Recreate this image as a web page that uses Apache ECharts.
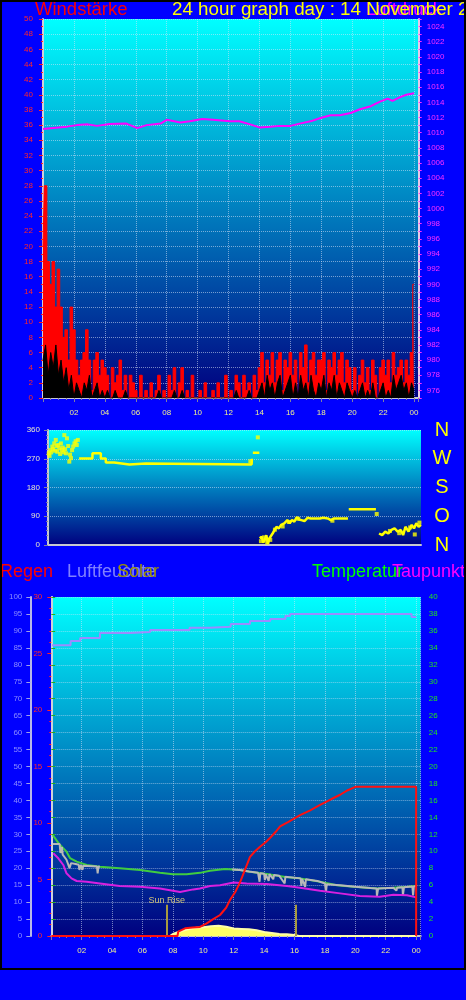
<!DOCTYPE html>
<html><head><meta charset="utf-8">
<style>html,body{margin:0;padding:0;background:#0000ff;}#c{width:466px;height:1000px;}</style>
<script src="https://cdn.jsdelivr.net/npm/echarts@6/dist/echarts.min.js"></script>
</head><body><div id="c"></div>
<script>
// ---------- tick labels ----------
const tickHours  = [2,4,6,8,10,12,14,16,18,20,22,24];
const tickLabels = ['02','04','06','08','10','12','14','16','18','20','22','00'];
const dirTicks   = [0,90,180,270,360];
const dirLetters = ['N','O','S','W','N'];

// ---------- wind (10-minute samples, 00:00 .. 24:00) ----------
const windStepMinutes = 10;
const windGust = [20,28,18,15,18,12, 17,12,8,9,5,12, 9,5,3,5,6,9, 5,1,5,6,3,5,
  4,3,0,4,2,3, 5,1,3,0,3,2, 1,0,3,0,1,0, 2,0,1,3,0,1, 0,3,1,4,0,2, 4,0,1,0,3,0,
  0,1,0,2,0,0, 1,0,2,0,0,3, 0,1,0,3,2,0, 3,1,2,0,3,1, 4,6,2,5,3,6, 2,5,6,1,5,4,
  6,3,5,0,6,4, 7,2,5,6,3,5, 5,6,1,5,4,6, 3,5,6,2,5,4, 1,4,0,3,5,2, 4,1,5,3,0,4,
  5,3,5,2,6,3, 4,5,2,5,3,6, 15];
const windAvg = [5,7,3,6,4,7, 3,5,2,4,1,3, 0,2,1,0,2,1, 3,0,1,2,0,1,
  0,1,0,0,1,0, 0,0,1,0,0,0, 0,0,0,0,0,0, 0,0,0,1,0,0, 0,0,0,1,0,0, 1,0,0,0,0,0,
  0,0,0,0,0,0, 0,0,0,0,0,0, 0,0,0,1,0,0, 0,0,1,0,0,0, 1,2,0,3,1,2, 0,2,3,0,1,2,
  3,0,2,0,3,1, 2,0,3,1,0,2, 1,3,0,2,1,3, 0,2,1,0,2,1, 0,1,0,1,2,0, 1,0,2,0,0,1,
  2,0,1,0,3,1, 2,3,1,2,0,2, 1];

// ---------- pressure ----------
const pressureHours  = [0,0.5,1,1.55,2.2,2.9,3.5,4.3,5.4,6.1,6.7,7.6,8.0,8.9,9.5,10.3,11.0,12.1,12.7,13.4,
  14.0,14.7,15.3,16.0,16.6,17.3,17.9,18.6,19.2,19.9,20.5,21.2,21.8,22.3,22.6,23.1,23.5,24.0];
const pressureValues = [1010.5,1010.6,1010.7,1010.8,1011.0,1011.1,1010.9,1011.15,1011.2,1010.6,1011.0,1011.2,1011.7,1011.35,1011.5,1011.8,1011.7,1011.5,1011.5,1011.1,
  1010.7,1010.8,1010.9,1010.9,1011.2,1011.5,1011.9,1012.3,1012.3,1012.6,1013.1,1013.5,1014.1,1014.5,1014.2,1014.7,1015.0,1015.2];

// ---------- wind direction [hour, degrees]; null breaks the line ----------
const dirLine = [
  [2.0,271],[2.86,271],[2.86,287],[3.4,287],[3.4,271],[3.72,271],[3.72,258],[4.26,258],[4.26,252],[5.23,252],
  [5.23,255],[6.3,255],[6.3,252],[13.1,252],[13.12,270],[13.12,null],
  [13.18,289],[13.6,289],[13.6,null],
  [13.62,21],[13.75,26],[13.85,7],[13.95,16],[14.05,31],[14.15,3],[14.25,21],[14.35,26],[14.45,36],[14.55,42],
  [14.7,57],[14.85,52],[15.0,63],[15.2,68],[15.4,78],[15.55,68],[15.7,78],[15.85,73],[16.0,87],[16.15,80],
  [16.3,78],[16.5,75],[16.7,85],[16.9,83],[17.5,83],[17.7,85],[18.0,83],[18.2,78],[18.4,83],[19.3,83],[19.3,null],
  [19.35,112],[21.1,112],[21.1,null],
  [21.3,36],[21.5,31],[21.7,42],[21.9,36],[22.1,47],[22.3,52],[22.5,42],[22.7,47],[22.85,31],[23.0,57],
  [23.2,42],[23.4,63],[23.55,52],[23.7,68],[23.85,57],[24.0,63]
];
const dirDots = [
  [0.05,287],[0.1,279],[0.15,297],[0.2,290],[0.28,308],[0.33,300],[0.4,318],[0.45,295],[0.5,329],[0.55,310],
  [0.6,292],[0.66,313],[0.72,303],[0.78,285],[0.83,318],[0.9,297],[0.95,305],[1.0,290],[1.05,344],[1.1,300],
  [1.16,287],[1.22,334],[1.3,310],[1.37,261],[1.42,283],[1.48,272],[1.55,297],[1.62,308],[1.7,318],[1.78,325],
  [1.85,313],[1.92,329],[13.5,337],[21.15,97],[13.02,262],
  [13.7,12],[13.9,24],[14.1,8],[14.3,16],[14.6,48],[15.1,58],[15.5,72],[16.1,82],[18.3,76],[22.0,44],[22.6,37],[23.3,55],[23.6,33],[23.9,70]
];

// ---------- bottom panel ----------
const humHours = [0.05,0.9,1.27,1.9,3.2,5.2,6.5,9.1,10.4,11.8,13.07,14.4,15.4,15.7,23.7,24.0];
const humVals  = [85.8,85.8,87.0,87.9,89.4,89.7,90.3,90.9,91.2,92.0,92.9,93.5,94.4,95.0,94.1,94.1];

const tempHours = [0.1,0.5,1.0,1.23,1.67,2.33,3.2,4.5,5.84,7.15,8.0,8.9,9.78,10.44,11.43,12.41,13.07,14.17,15.5,16.36,17.68,18.78,19.87,21.4,22.5,23.4,24.0];
const tempVals  = [11.9,10.9,9.95,9.2,8.77,8.38,8.18,7.99,7.8,7.47,7.28,7.28,7.45,7.7,7.9,7.79,7.59,7.32,6.92,6.8,6.4,6.0,5.8,5.6,5.7,5.8,5.9];

const dewHours = [0.13,0.46,0.79,1.0,1.33,1.67,2.33,3.2,4.5,5.84,7.15,8.0,8.47,9.34,9.78,10.44,11.1,12.0,12.85,14.17,15.5,16.36,17.68,19.0,20.3,21.6,22.5,23.4,24.0];
const dewVals  = [9.76,9.17,8.38,7.4,6.8,6.49,6.4,6.2,5.9,5.8,5.6,5.35,5.2,5.5,5.6,5.9,6.0,6.3,6.2,6.14,5.9,5.7,5.35,5.03,4.72,4.64,4.87,4.8,4.56];

const chillData = [
  [0.1,10.85],[0.55,10.85],[0.6,9.8],[0.7,10.5],[0.75,9.6],[1.0,9.0],[1.1,8.9],[1.2,8.0],[1.3,8.6],[1.6,8.5],
  [1.8,8.4],[1.85,7.8],[1.95,8.4],[2.05,7.8],[2.1,8.3],[3.0,8.2],[3.05,7.4],[3.1,8.2],[3.2,8.18],[3.2,null],
  [11.9,7.85],[12.4,7.8],[13.0,7.6],[13.6,7.45],[13.7,6.4],[13.75,7.4],[14.0,7.35],[14.05,6.6],[14.1,7.3],[14.3,6.5],
  [14.35,7.3],[14.6,6.7],[14.65,7.2],[15.0,7.1],[15.35,6.2],[15.4,7.0],[15.5,6.95],[16.4,6.8],[16.45,5.9],[16.5,6.75],
  [16.7,5.8],[16.75,6.7],[17.5,6.5],[18.0,6.2],[18.07,5.2],[18.12,6.1],[19.0,6.0],[20.0,5.8],[21.0,5.65],[21.4,5.6],
  [21.42,4.7],[21.5,5.6],[22.5,5.7],[22.7,5.35],[22.75,5.7],[23.1,5.75],[23.13,4.8],[23.2,5.75],[23.75,5.85],[23.8,4.8],
  [23.85,5.85],[24.0,5.9]
];

const rainHours = [0,8.3,8.35,8.8,9.3,9.78,10.2,10.6,11.1,11.5,11.76,12.1,12.4,12.75,13.07,13.4,13.73,14.1,14.4,14.75,15.05,15.6,16.36,17.0,17.68,18.4,19.0,19.5,20.0,24.0,24.0];
const rainVals  = [0,0,0.38,0.68,0.75,0.8,1.1,1.45,1.86,2.5,3.2,3.9,4.7,5.9,7.0,7.5,7.9,8.3,8.7,9.2,9.7,10.1,10.7,11.1,11.6,12.1,12.5,12.9,13.2,13.2,0];

const solarHours = [0,7.8,8.0,8.5,9.0,9.5,10.0,10.5,11.0,11.5,12.0,12.5,13.0,13.5,14.0,14.5,15.0,15.5,16.0,16.3,24];
const solarVals  = [0,0,6,14,20,24,26,29,30,27,22,21,20,17,12,9,6,5,3,0,0];

const sunRiseHour = 7.59, sunSetHour = 16.1;

// ---------- build ----------
const zip = (a, b) => a.map((v, i) => [v, b[i]]);
const windHour = i => i * windStepMinutes / 60;
const gustData = windGust.map((v, i) => [windHour(i), v]);
const avgData  = windAvg.map((v, i) => [windHour(i), v]);

const bg = {type:'linear', x:0, y:0, x2:0, y2:1,
  colorStops:[{offset:0, color:'#00ffff'}, {offset:1, color:'#000080'}]};
const gridLine = {show:true, lineStyle:{color:'rgba(215,225,245,0.55)', type:'dotted', width:1}};
const F = 'Arial';

function hourAxis(gi, labels, split) {
  return {
    type:'value', gridIndex:gi, min:0, max: gi === 1 ? 24 : 24.3, interval:2,
    axisLine:{show:true, onZero:false, lineStyle:{color:'#c8c8d0', width:2}},
    axisTick:{show:labels, length:4, lineStyle:{color:'#8080a0'}},
    minorTick:{show:labels, splitNumber:4, length:2, lineStyle:{color:'#8080a0'}},
    axisLabel:{show:labels, color:'#f0f090', fontSize:8, fontFamily:F, margin:11,
      formatter: v => { const i = tickHours.indexOf(v); return i >= 0 ? tickLabels[i] : ''; }},
    splitLine: split ? gridLine : {show:false}
  };
}

const option = {
  animation:false,
  backgroundColor:'#0000ff',
  grid:[
    {left:43, top:19, width:375.7, height:379, show:true, backgroundColor:bg, borderWidth:0},
    {left:48, top:430, width:373, height:115, show:true, backgroundColor:bg, borderWidth:0},
    {left:51.3, top:597, width:369.4, height:339, show:true, backgroundColor:bg, borderWidth:0}
  ],
  xAxis:[hourAxis(0, true, true), hourAxis(1, false, false), hourAxis(2, true, true)],
  yAxis:[
    {type:'value', gridIndex:0, position:'left', min:0, max:50, interval:2,
      axisLine:{show:true, lineStyle:{color:'#d0d0d8', width:2}},
      axisTick:{show:true, length:4, lineStyle:{color:'#ff2020'}},
      minorTick:{show:true, splitNumber:2, length:2, lineStyle:{color:'#ff2020'}},
      axisLabel:{color:'#ff2828', fontSize:8, fontFamily:F, margin:10},
      splitLine:gridLine},
    {type:'value', gridIndex:0, position:'right', min:975, max:1025, interval:1,
      axisLine:{show:true, lineStyle:{color:'#e8c8e8', width:2}},
      axisTick:{show:true, length:3, lineStyle:{color:'#ff30ff'}},
      axisLabel:{color:'#ff30ff', fontSize:8, fontFamily:F, margin:8,
        formatter: v => (v % 2 === 0 ? String(v) : '')},
      splitLine:{show:false}},
    {type:'value', gridIndex:1, position:'left', min:0, max:360, interval:90,
      axisLine:{show:true, lineStyle:{color:'#c8c8d0', width:2}},
      axisTick:{show:true, length:4, lineStyle:{color:'#8080a0'}},
      minorTick:{show:true, splitNumber:6, length:2, lineStyle:{color:'#8080a0'}},
      axisLabel:{color:'#e8e8c8', fontSize:8, fontFamily:F, margin:8},
      splitLine:gridLine},
    {type:'value', gridIndex:1, position:'right', min:0, max:360, interval:90,
      axisLine:{show:false}, axisTick:{show:false},
      axisLabel:{color:'#ffff00', fontSize:20, fontFamily:F, margin:21, align:'center',
        formatter: v => { const i = dirTicks.indexOf(v); return i >= 0 ? dirLetters[i] : ''; }},
      splitLine:{show:false}},
    {type:'value', gridIndex:2, position:'right', min:0, max:40, interval:2,
      axisLine:{show:true, lineStyle:{color:'#d0d0d8', width:2}},
      axisTick:{show:true, length:4, lineStyle:{color:'#20b020'}},
      axisLabel:{color:'#22e022', fontSize:8, fontFamily:F, margin:8},
      splitLine:gridLine},
    {type:'value', gridIndex:2, position:'left', min:0, max:30, interval:5,
      axisLine:{show:true, lineStyle:{color:'#d0d0d8', width:2}},
      axisTick:{show:true, length:4, lineStyle:{color:'#ff2020'}},
      minorTick:{show:true, splitNumber:5, length:2, lineStyle:{color:'#ff2020'}},
      axisLabel:{color:'#ff2828', fontSize:8, fontFamily:F, margin:9},
      splitLine:{show:false}},
    {type:'value', gridIndex:2, position:'left', offset:21, min:0, max:100, interval:5,
      axisLine:{show:true, lineStyle:{color:'#b8b8e8', width:2}},
      axisTick:{show:true, length:4, lineStyle:{color:'#a0a0e8'}},
      axisLabel:{color:'#8c8cff', fontSize:8, fontFamily:F, margin:8},
      splitLine:{show:false}},
    {type:'value', gridIndex:2, show:false, min:0, max:1000}
  ],
  series:[
    {name:'Böen', type:'line', xAxisIndex:0, yAxisIndex:0, data:gustData, symbol:'none', step:'middle',
      lineStyle:{color:'#ff0000', width:1}, areaStyle:{color:'#ff0000', opacity:1}, z:2},
    {name:'Wind', type:'line', xAxisIndex:0, yAxisIndex:0, data:avgData, symbol:'none',
      lineStyle:{color:'#000000', width:1}, areaStyle:{color:'#000000', opacity:1}, z:3},
    {name:'Luftdruck', type:'line', xAxisIndex:0, yAxisIndex:1, data:zip(pressureHours, pressureValues), symbol:'none',
      lineStyle:{color:'#ff00ff', width:2}, z:4},
    {name:'Richtung', type:'line', xAxisIndex:1, yAxisIndex:2, data:dirLine, symbol:'none', connectNulls:false,
      lineStyle:{color:'#ffff00', width:2.5}, z:3},
    {name:'RichtungPunkte', type:'scatter', xAxisIndex:1, yAxisIndex:2, data:dirDots, symbol:'rect', symbolSize:4,
      itemStyle:{color:'#ffff00'}, z:3},
    {name:'Solar', type:'line', xAxisIndex:2, yAxisIndex:7, data:zip(solarHours, solarVals), symbol:'none',
      lineStyle:{color:'#ffffa8', width:2}, areaStyle:{color:'#ffff66', opacity:1}, z:2,
      markLine:{silent:true, symbol:'none',
        lineStyle:{color:'#a89a40', width:2, type:'solid'},
        data:[
          [{coord:[sunRiseHour,0], label:{show:true, position:'end', distance:0, formatter:'Sun Rise', color:'#cfc47a', fontSize:9, fontFamily:F}},
           {coord:[sunRiseHour,92]}],
          [{coord:[sunSetHour,0], label:{show:false}}, {coord:[sunSetHour,92]}]
        ]}},
    {name:'Luftfeuchte', type:'line', xAxisIndex:2, yAxisIndex:6, data:zip(humHours, humVals), step:'end', symbol:'none',
      lineStyle:{color:'#9a8cff', width:2}, z:3},
    {name:'Temperatur', type:'line', xAxisIndex:2, yAxisIndex:4, data:zip(tempHours, tempVals), symbol:'none',
      lineStyle:{color:'#40cc40', width:2}, z:4},
    {name:'Windchill', type:'line', xAxisIndex:2, yAxisIndex:4, data:chillData, symbol:'none', connectNulls:false,
      lineStyle:{color:'#b8b8b8', width:2}, z:5},
    {name:'Taupunkt', type:'line', xAxisIndex:2, yAxisIndex:4, data:zip(dewHours, dewVals), symbol:'none',
      lineStyle:{color:'#d820e0', width:2}, z:5},
    {name:'Regen', type:'line', xAxisIndex:2, yAxisIndex:5, data:zip(rainHours, rainVals), symbol:'none',
      lineStyle:{color:'#ff1010', width:2}, z:6}
  ],
  graphic:[
    {type:'text', x:35, y:10, silent:true, style:{text:'Windstärke', fill:'#ff0000', font:'18.5px Arial', verticalAlign:'middle'}},
    {type:'text', x:366, y:10, silent:true, style:{text:'Luftdruck', fill:'#ff00ff', font:'18.5px Arial', verticalAlign:'middle'}},
    {type:'text', x:172, y:10, silent:true, style:{text:'24 hour graph day : 14 November 2', fill:'#ffff00', font:'18.8px Arial', verticalAlign:'middle'}},
    {type:'text', x:0, y:572, silent:true, style:{text:'Regen', fill:'#ff0000', font:'18px Arial', verticalAlign:'middle'}},
    {type:'text', x:67, y:572, silent:true, style:{text:'Luftfeuchte', fill:'#8080ff', font:'18px Arial', verticalAlign:'middle'}},
    {type:'text', x:117, y:572, silent:true, style:{text:'Solar', fill:'#9c9400', font:'18px Arial', verticalAlign:'middle'}},
    {type:'text', x:312, y:572, silent:true, style:{text:'Temperatur', fill:'#00ff00', font:'18px Arial', verticalAlign:'middle'}},
    {type:'text', x:392, y:572, silent:true, style:{text:'Taupunkt', fill:'#ff00ff', font:'18px Arial', verticalAlign:'middle'}},
    {type:'rect', silent:true, z:100, shape:{x:1, y:1, width:464, height:968}, style:{fill:'none', stroke:'#000000', lineWidth:2}}
  ]
};

const chart = echarts.init(document.getElementById('c'), null, {renderer:'canvas', width:466, height:1000});
chart.setOption(option);
</script>
</body></html>
